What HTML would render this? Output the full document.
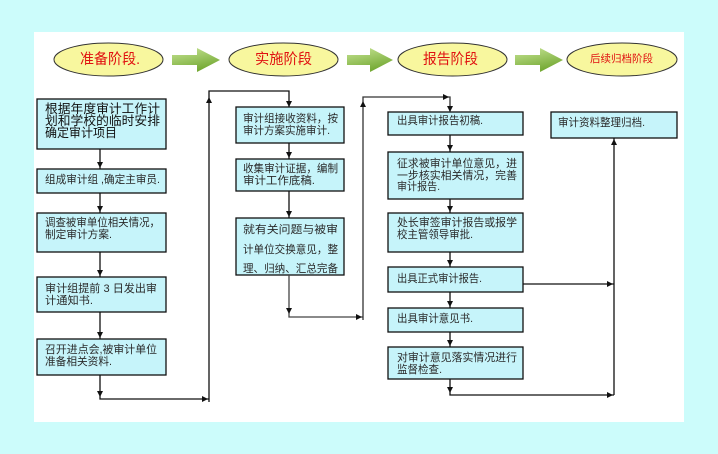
<!DOCTYPE html>
<html><head><meta charset="utf-8"><style>
html,body{margin:0;padding:0;background:#ccfcfb;}
svg{display:block;}
text{font-family:"Liberation Sans","Noto Sans CJK SC",sans-serif;}
.t{font-size:11px;fill:#2a2a2a;}
.t1{font-size:12.5px;fill:#111;}
.h{font-size:14.5px;fill:#e01010;}
</style></head><body>
<svg width="718" height="454" viewBox="0 0 718 454" xmlns="http://www.w3.org/2000/svg">
<defs>
<linearGradient id="g" x1="0" y1="0" x2="0.4" y2="1">
<stop offset="0" stop-color="#c8e596"/>
<stop offset="1" stop-color="#74a934"/>
</linearGradient>
</defs>
<rect x="0" y="0" width="718" height="454" fill="#ccfcfb"/>
<rect x="34" y="32" width="650" height="390" fill="#ffffff"/>

<!-- stage ellipses -->
<g fill="#f8f79e" stroke="#333" stroke-width="1">
<ellipse cx="108.5" cy="59.5" rx="54.5" ry="16.5"/>
<ellipse cx="283.5" cy="59.5" rx="54.5" ry="16.5"/>
<ellipse cx="452.5" cy="59.5" rx="54.5" ry="16.5"/>
<ellipse cx="622" cy="59.5" rx="55" ry="16.5"/>
</g>
<text class="h" x="80" y="64" textLength="60" lengthAdjust="spacingAndGlyphs">准备阶段.</text>
<text class="h" x="255" y="64" textLength="57" lengthAdjust="spacingAndGlyphs">实施阶段</text>
<text class="h" x="423" y="64" textLength="55" lengthAdjust="spacingAndGlyphs">报告阶段</text>
<text class="h" x="590" y="62" style="font-size:10.5px" textLength="63" lengthAdjust="spacingAndGlyphs">后续归档阶段</text>

<!-- green arrows -->
<g fill="url(#g)">
<polygon points="172,55 197,55 197,48 220,60 197,72 197,65 172,65"/>
<polygon points="347,55 370,55 370,48 393,60 370,72 370,65 347,65"/>
<polygon points="515,55 540,55 540,48 563,60 540,72 540,65 515,65"/>
</g>

<!-- boxes -->
<g fill="#c6f4fa" stroke="#111" stroke-width="1.3">
<rect x="37" y="99" width="129" height="50"/>
<rect x="37" y="169" width="129" height="24"/>
<rect x="37" y="213" width="129" height="39"/>
<rect x="37" y="277" width="129" height="35"/>
<rect x="37" y="339" width="129" height="36"/>
<rect x="236" y="107" width="108" height="36"/>
<rect x="236" y="159" width="108" height="32"/>
<rect x="236" y="218" width="108" height="57"/>
<rect x="388" y="112" width="135" height="23"/>
<rect x="388" y="152" width="135" height="47"/>
<rect x="388" y="213" width="135" height="39"/>
<rect x="388" y="267" width="135" height="25"/>
<rect x="388" y="308" width="135" height="24"/>
<rect x="388" y="347" width="135" height="32"/>
<rect x="551" y="112" width="126" height="26"/>
</g>

<!-- box texts -->
<text class="t1" x="45" y="113" textLength="115" lengthAdjust="spacingAndGlyphs">根据年度审计工作计</text>
<text class="t1" x="45" y="125" textLength="115" lengthAdjust="spacingAndGlyphs">划和学校的临时安排</text>
<text class="t1" x="45" y="137" textLength="72" lengthAdjust="spacingAndGlyphs">确定审计项目</text>

<text class="t" x="45" y="183" textLength="115" lengthAdjust="spacingAndGlyphs">组成审计组 ,确定主审员.</text>
<text class="t" x="45" y="226" textLength="115" lengthAdjust="spacingAndGlyphs">调查被审单位相关情况，</text>
<text class="t" x="45" y="238" textLength="67" lengthAdjust="spacingAndGlyphs">制定审计方案.</text>
<text class="t" x="45" y="292" textLength="112" lengthAdjust="spacingAndGlyphs">审计组提前 3 日发出审</text>
<text class="t" x="45" y="304" textLength="48" lengthAdjust="spacingAndGlyphs">计通知书.</text>
<text class="t" x="45" y="353" textLength="112" lengthAdjust="spacingAndGlyphs">召开进点会,被审计单位</text>
<text class="t" x="45" y="365" textLength="67" lengthAdjust="spacingAndGlyphs">准备相关资料.</text>

<text class="t" x="243" y="122" textLength="95" lengthAdjust="spacingAndGlyphs">审计组接收资料，按</text>
<text class="t" x="243" y="134" textLength="87" lengthAdjust="spacingAndGlyphs">审计方案实施审计.</text>
<text class="t" x="243" y="172" textLength="95" lengthAdjust="spacingAndGlyphs">收集审计证据，编制</text>
<text class="t" x="243" y="184" textLength="72" lengthAdjust="spacingAndGlyphs">审计工作底稿.</text>
<text class="t" x="243" y="233" textLength="95" lengthAdjust="spacingAndGlyphs">就有关问题与被审</text>
<text class="t" x="243" y="253" textLength="95" lengthAdjust="spacingAndGlyphs">计单位交换意见，整</text>
<text class="t" x="243" y="272" textLength="95" lengthAdjust="spacingAndGlyphs">理、归纳、汇总完备</text>

<text class="t" x="397" y="124" textLength="86" lengthAdjust="spacingAndGlyphs">出具审计报告初稿.</text>
<text class="t" x="397" y="167" textLength="120" lengthAdjust="spacingAndGlyphs">征求被审计单位意见，进</text>
<text class="t" x="397" y="179" textLength="120" lengthAdjust="spacingAndGlyphs">一步核实相关情况，完善</text>
<text class="t" x="397" y="190" textLength="43" lengthAdjust="spacingAndGlyphs">审计报告.</text>
<text class="t" x="397" y="226" textLength="120" lengthAdjust="spacingAndGlyphs">处长审签审计报告或报学</text>
<text class="t" x="397" y="238" textLength="76" lengthAdjust="spacingAndGlyphs">校主管领导审批.</text>
<text class="t" x="397" y="282" textLength="85" lengthAdjust="spacingAndGlyphs">出具正式审计报告.</text>
<text class="t" x="397" y="322" textLength="76" lengthAdjust="spacingAndGlyphs">出具审计意见书.</text>
<text class="t" x="397" y="361" textLength="120" lengthAdjust="spacingAndGlyphs">对审计意见落实情况进行</text>
<text class="t" x="397" y="373" textLength="45" lengthAdjust="spacingAndGlyphs">监督检查.</text>

<text class="t" x="558" y="126" textLength="87" lengthAdjust="spacingAndGlyphs">审计资料整理归档.</text>

<!-- connectors -->
<g stroke="#111" stroke-width="1.3" fill="none">
<path d="M100 149V169M100 193V213M100 252V277M100 312V339M100 375V399H209"/>
<path d="M209 402V91H289V107"/>
<path d="M289 143V159M289 191V218"/>
<path d="M289 275V317H363" stroke="#444"/>
<path d="M363 320V97H450V112" stroke="#333"/>
<path d="M450 135V152M450 199V213M450 252V267M450 292V308M450 332V347M450 379V395H614"/>
<path d="M523 284H614M614 395V138"/>
</g>
<g fill="#111">
<!-- col1 down arrows -->
<polygon points="97,162 103,162 100,168"/>
<polygon points="97,206 103,206 100,212"/>
<polygon points="97,270 103,270 100,276"/>
<polygon points="97,332 103,332 100,338"/>
<polygon points="97,391 103,391 100,397"/>
<polygon points="202,396 202,402 208,399"/>
<polygon points="206,103 212,103 209,97"/>
<polygon points="286,101 292,101 289,107"/>
<!-- col2 -->
<polygon points="286,152 292,152 289,158"/>
<polygon points="286,211 292,211 289,217"/>
<polygon points="286,308 292,308 289,314"/>
<polygon points="356,314 356,320 362,317"/>
<polygon points="360,107 366,107 363,101"/>
<polygon points="443,94 443,100 449,97"/>
<polygon points="447,106 453,106 450,112"/>
<!-- col3 -->
<polygon points="447,145 453,145 450,151"/>
<polygon points="447,206 453,206 450,212"/>
<polygon points="447,260 453,260 450,266"/>
<polygon points="447,301 453,301 450,307"/>
<polygon points="447,340 453,340 450,346"/>
<polygon points="447,387 453,387 450,393"/>
<polygon points="607,392 607,398 613,395"/>
<polygon points="607,281 607,287 613,284"/>
<polygon points="611,145 617,145 614,139"/>
</g>
</svg>
</body></html>
